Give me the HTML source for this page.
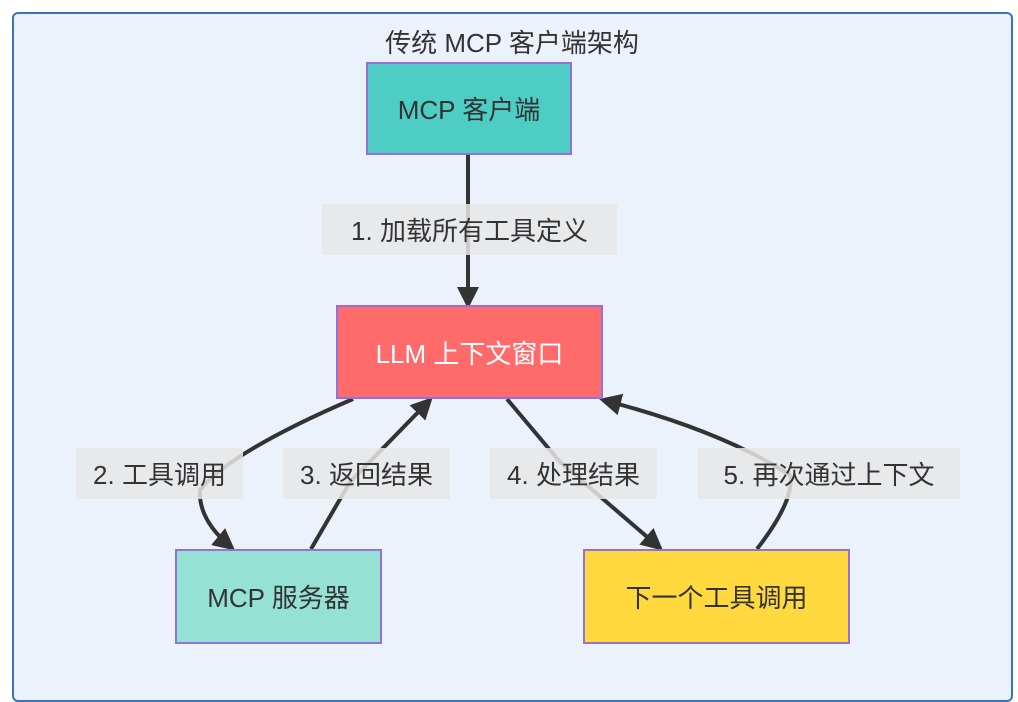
<!DOCTYPE html>
<html><head><meta charset="utf-8"><style>
html,body{margin:0;padding:0;background:#fff;}
body{width:1018px;height:688px;position:relative;overflow:hidden;font-family:"Liberation Sans","Noto Sans CJK SC",sans-serif;color:#333;}
.abs{position:absolute;box-sizing:border-box;display:flex;align-items:center;justify-content:center;}
.node{border:2px solid #9370DB;font-size:26px;}
.lbl{background:rgba(232,232,232,0.85);font-size:26px;color:#333;}
</style></head><body>
<div class="abs" style="left:12px;top:12px;width:1001px;height:690px;background:#ECF2FC;border:2px solid #3a72c0;border-radius:6px;"></div>
<div class="abs" style="left:312px;top:20px;width:400px;height:42px;font-size:26px;">传统 MCP 客户端架构</div>
<svg class="abs" style="left:0;top:0" width="1018" height="688">
<defs><marker id="a" markerWidth="12" markerHeight="12" refX="9" refY="6" orient="auto" markerUnits="userSpaceOnUse" viewBox="0 0 12 12"><path d="M0,0 L12,6 L0,12 z" fill="#333"/></marker>
<marker id="b" markerWidth="22" markerHeight="22" refX="18" refY="11" orient="auto" markerUnits="userSpaceOnUse" viewBox="0 0 22 22"><path d="M0,0 L22,11 L0,22 z" fill="#333"/></marker></defs>
<g stroke="#333" stroke-width="4" fill="none">
<path d="M468,154 L468,305" marker-end="url(#b)"/>
<path d="M353,399 Q230,452 200,490 Q198,520 232,548" marker-end="url(#b)"/>
<path d="M311,549 L350,482 L430,400" marker-end="url(#b)"/>
<path d="M507,399 L560,462 L660,548" marker-end="url(#b)"/>
<path d="M757,549 Q795,500 790,475 Q720,430 603,400" marker-end="url(#b)"/>
</g></svg>
<div class="abs node" style="left:366px;top:62px;width:206px;height:93px;background:#4ECDC4;">MCP 客户端</div>
<div class="abs node" style="left:336px;top:305px;width:267px;height:94px;background:#FF6B6B;color:#fff;">LLM 上下文窗口</div>
<div class="abs node" style="left:175px;top:549px;width:207px;height:95px;background:#95E1D3;">MCP 服务器</div>
<div class="abs node" style="left:583px;top:549px;width:267px;height:95px;background:#FFD93D;">下一个工具调用</div>
<div class="abs lbl" style="left:322px;top:204px;width:295px;height:51px;">1. 加载所有工具定义</div>
<div class="abs lbl" style="left:76px;top:448px;width:167px;height:51px;">2. 工具调用</div>
<div class="abs lbl" style="left:283px;top:448px;width:167px;height:51px;">3. 返回结果</div>
<div class="abs lbl" style="left:490px;top:448px;width:167px;height:51px;">4. 处理结果</div>
<div class="abs lbl" style="left:698px;top:448px;width:262px;height:51px;">5. 再次通过上下文</div>
</body></html>
